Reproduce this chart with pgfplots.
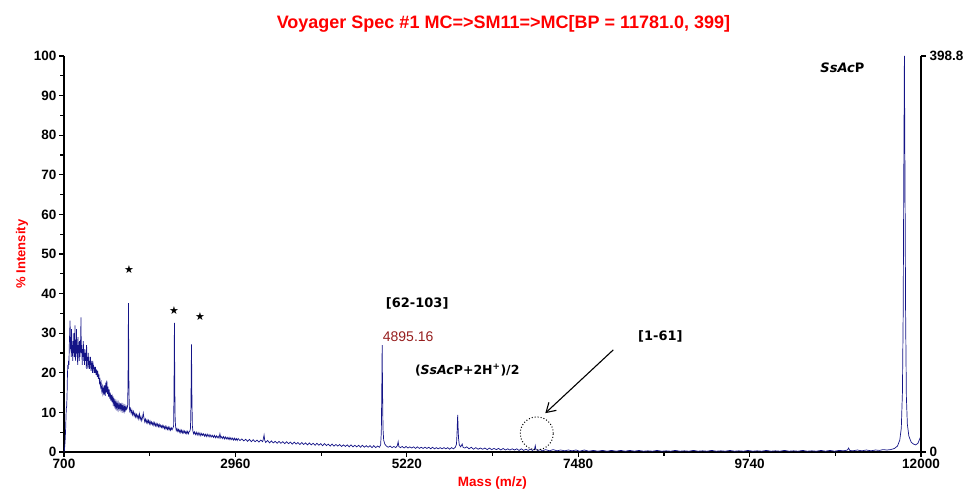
\documentclass[border=0pt]{standalone}
\usepackage{pgfplots}
\pgfplotsset{compat=1.18}
\usepackage{fontspec}
\setmainfont{Liberation Sans}
\newfontfamily\annfont{DejaVu Sans}
\usetikzlibrary{arrows.meta}
\definecolor{spec}{RGB}{20,20,135}
\definecolor{peaklab}{RGB}{150,30,30}
\begin{document}
\begin{tikzpicture}
\path[use as bounding box] (-64pt,-45pt) rectangle (905pt,452pt);
\begin{axis}[
  scale only axis, width=857pt, height=396pt,
  xmin=700, xmax=12000, ymin=0, ymax=100,
  scaled ticks=false,
  axis x line*=bottom, axis y line*=left,
  axis line style={-, black},
  x axis line style={line width=1.1pt},
  y axis line style={line width=1.6pt},
  xtick={700,2960,5220,7480,9740,12000},
  minor xtick={1830,4090,6350,8610,10870},
  ytick={0,10,...,100}, minor ytick={5,15,...,95},
  tick align=outside,
  major tick length=5pt, minor tick length=4pt,
  every tick/.style={black, line width=1.2pt},
  /pgf/number format/assume math mode=true,
  /pgf/number format/1000 sep={},
  ticklabel style={font=\fontsize{13.5}{15}\selectfont\bfseries},
  xticklabel style={yshift=1pt},
  yticklabel style={xshift=1pt},
  xlabel={Mass (m/z)}, ylabel={\% Intensity},
  label style={font=\fontsize{13}{15}\selectfont\bfseries, text=red},
  xlabel style={yshift=-1pt, font=\fontsize{13.5}{15}\selectfont\bfseries},
  ylabel style={yshift=-1pt},
  title={Voyager Spec \#1 MC=>SM11=>MC[BP = 11781.0, 399]},
  title style={font=\fontsize{18}{20}\selectfont\bfseries, text=red, yshift=14pt, xshift=11pt},
  clip=false,
]
\addplot[spec, line width=0.7pt] coordinates {
(700,0) (705,0.5) (710,1.5) (715,3) (720,5) (725,8) (730,11) (735,11.5) (740,14) (745,19) (750,22) (755,21) (760,23) (765,22) (770,27) (775,30) (780,33.2) (785,26) (790,29) (795,24) (800,31) (805,25) (810,27) (815,23) (820,28) (825,25) (830,30) (835,24) (840,27) (845,32) (850,23) (855,28) (860,25) (865,31) (870,24) (875,27) (880,22) (885,29) (890,25) (895,27) (900,23) (905,28) (910,24) (915,26) (920,29) (924,34) (928,25) (935,27) (940,22) (945,26) (950,24) (955,28) (960,23) (965,25) (970,22) (975,26) (980,24) (985,23) (990,25) (995,21) (998,27) (1003,23) (1010,24) (1015,21) (1020,25) (1025,22) (1030,24) (1035,21) (1040,23) (1045,22) (1050,24) (1055,20.5) (1060,23) (1065,21) (1070,22.5) (1075,20) (1080,23) (1085,21) (1090,22) (1095,20) (1100,21.5)
(1108,20) (1115,21.5) (1123,19.5) (1130,20.8) (1138,19) (1145,20.5) (1153,18.5) (1160,19.6) (1168,17.5) (1175,18.2) (1183,16.5) (1190,17.4) (1198,15.5) (1205,16.5) (1213,14.8) (1220,16) (1228,14.5) (1235,16.8) (1243,14.2) (1250,17.5) (1258,15) (1265,18) (1273,14.6) (1280,16.5) (1288,14) (1295,15.8) (1303,13.5) (1310,15) (1318,13) (1325,14.4) (1333,12.6) (1340,13.8) (1348,12.2) (1355,13.3) (1363,11.8) (1370,12.9) (1378,11.4) (1385,12.6) (1393,11.2) (1400,12.4) (1408,11) (1415,12.2) (1423,10.8) (1430,12) (1438,11) (1445,12.3) (1453,10.7) (1460,11.8) (1468,10.6) (1475,11.7) (1483,10.5) (1490,11.6) (1498,10.4) (1505,11.5) (1513,10.6) (1520,11.4) (1528,10.8) (1535,11.2) (1540,12) (1545,20) (1550,37.6) (1555,19) (1560,12) (1566,10.4)
(1575,11) (1585,9.8) (1595,10.6) (1605,9.4) (1615,10.2) (1625,9.1) (1635,9.8) (1645,8.8) (1655,9.5) (1665,8.6) (1675,9.3) (1685,8.4) (1695,9.6) (1705,8.2) (1715,8.9) (1725,7.9) (1735,8.7) (1745,9.8) (1755,8.5) (1765,7.6) (1775,8.3) (1785,7.4) (1795,8.1) (1805,7.3) (1815,8) (1825,7.1) (1835,7.8) (1845,7) (1855,7.6) (1865,6.9) (1875,7.5) (1885,6.7) (1895,7.4) (1905,6.6) (1915,7.2) (1925,6.5) (1935,7.1) (1945,6.4) (1955,7) (1965,6.3) (1975,6.8) (1985,6.2) (1995,6.7) (2005,6.1) (2015,6.6) (2025,5.9) (2035,6.5) (2045,5.8) (2055,6.4) (2065,5.7) (2075,6.3) (2085,5.6) (2095,6.2) (2105,5.5) (2115,6.1) (2125,5.6) (2135,6) (2145,6.5) (2150,14) (2156,32.6) (2161,16) (2166,8) (2172,6.4)
(2180,5.4) (2190,5.9) (2200,5.2) (2210,5.7) (2220,5) (2230,5.6) (2240,4.9) (2250,5.5) (2260,4.8) (2270,5.4) (2280,4.8) (2290,5.3) (2300,4.7) (2310,5.2) (2320,4.6) (2330,5.2) (2340,4.6) (2350,5.1) (2360,5.3) (2368,6) (2374,12) (2381,27.2) (2387,13) (2393,6.5) (2400,5.2)
(2410,4.6) (2420,5.1) (2432,4.4) (2444,5) (2456,4.3) (2468,4.9) (2480,4.2) (2492,4.8) (2504,4.1) (2516,4.7) (2528,4.2) (2540,4.6) (2552,4) (2564,4.5) (2576,3.9) (2588,4.5) (2600,3.9) (2612,4.4) (2624,3.8) (2636,4.3) (2648,3.8) (2660,4.2) (2672,3.7) (2684,4.2) (2696,3.6) (2708,4.1) (2720,3.6) (2732,4) (2744,3.5) (2756,4.6) (2768,3.5) (2780,3.9) (2792,3.4) (2804,3.9) (2816,3.3) (2828,3.8) (2840,3.3) (2852,3.7) (2864,3.2) (2876,3.7) (2888,3.1) (2900,3.6) (2912,3.1) (2924,3.5) (2936,3) (2948,3.5) (2960,3) (2972,3.4) (2984,2.9) (2996,3.4)
(3020,2.9) (3045,3.3) (3070,2.8) (3095,3.2) (3120,2.7) (3145,3.2) (3170,2.6) (3195,3.1) (3220,2.6) (3245,3) (3270,2.5) (3295,3) (3320,2.6) (3330,3.5) (3338,4.3) (3346,3) (3360,2.4) (3385,2.9) (3410,2.3) (3435,2.8) (3460,2.3) (3485,2.7) (3510,2.2) (3535,2.7) (3560,2.2) (3585,2.6) (3610,2.1) (3635,2.6) (3660,2.1) (3685,2.5) (3710,2) (3735,2.5) (3760,2) (3785,2.4) (3810,1.9) (3835,2.4) (3860,1.9) (3885,2.3) (3910,1.8) (3935,2.3) (3960,1.8) (3985,2.2) (4010,1.7) (4035,2.2) (4060,1.7) (4085,2.1) (4110,1.6) (4135,2.1) (4160,1.6) (4185,2) (4210,1.5) (4235,2) (4260,1.5) (4285,1.9) (4310,1.5) (4335,1.9) (4360,1.4) (4385,1.8) (4410,1.4) (4435,1.8) (4460,1.3) (4485,1.8) (4510,1.3) (4535,1.7) (4560,1.3) (4585,1.7) (4610,1.2) (4635,1.7) (4660,1.2) (4685,1.6) (4710,1.2) (4735,1.6) (4760,1.1) (4785,1.6) (4810,1.1) (4835,1.5) (4860,1.2) (4875,1.8) (4884,5) (4890,15) (4895.16,27) (4900,16) (4906,6) (4915,3) (4930,2) (4950,1.5) (4975,1.2) (5000,1.5) (5025,1.1) (5050,1.4) (5075,1.1) (5095,1.6) (5106,2.6) (5115,1.4) (5135,1.1) (5160,1.4) (5185,1) (5210,1.4) (5235,1) (5260,1.3) (5285,1) (5310,1.3) (5335,0.9) (5360,1.3) (5385,0.9) (5410,1.2) (5435,0.9) (5460,1.2) (5485,0.9) (5510,1.2) (5535,0.8) (5560,1.2) (5585,0.8) (5610,1.1) (5635,0.8) (5660,1.1) (5685,0.8) (5710,1.1) (5735,0.8) (5760,1.1) (5785,0.7) (5810,1.1) (5835,0.8) (5860,1.2) (5875,2) (5882,4.5) (5887,7.5) (5891,9.4) (5896,6.5) (5902,3.5) (5912,1.8) (5930,1.3) (5950,2) (5962,1.2) (5985,1) (6010,1.3) (6040,0.8) (6070,1.2) (6100,0.7) (6130,1.1) (6160,0.7) (6190,1) (6220,0.7) (6250,1) (6280,0.6) (6310,1) (6340,0.6) (6370,0.9) (6400,0.6) (6430,0.9) (6460,0.5) (6490,0.9) (6520,0.5) (6550,0.8) (6580,0.5) (6610,0.8) (6640,0.5) (6670,0.8) (6700,0.4) (6730,0.8) (6760,0.4) (6790,0.7) (6820,0.4) (6850,0.7) (6880,0.4) (6905,0.8) (6914,1.6) (6922,0.6) (6950,0.4) (6980,0.6) (7010,0.3) (7050,0.6) (7100,0.3) (7150,0.6) (7200,0.3) (7250,0.5) (7300,0.3) (7350,0.5) (7400,0.3) (7450,0.5) (7500,0.2) (7560,0.5) (7620,0.2) (7680,0.4) (7740,0.2) (7800,0.4) (7860,0.2) (7920,0.4) (7980,0.2) (8040,0.4) (8100,0.2) (8160,0.4) (8220,0.2) (8280,0.4) (8340,0.2) (8400,0.3) (8460,0.2) (8520,0.4) (8580,0.2) (8640,0.3) (8700,0.2) (8760,0.4) (8820,0.2) (8880,0.3) (8940,0.2) (9000,0.4) (9060,0.2) (9120,0.3) (9180,0.2) (9240,0.4) (9300,0.2) (9360,0.3) (9420,0.2) (9480,0.4) (9540,0.2) (9600,0.3) (9660,0.2) (9720,0.4) (9780,0.2) (9840,0.3) (9900,0.2) (9960,0.4) (10020,0.2) (10080,0.3) (10140,0.2) (10200,0.4) (10260,0.2) (10320,0.3) (10380,0.2) (10440,0.4) (10500,0.2) (10560,0.3) (10620,0.2) (10680,0.4) (10740,0.2) (10800,0.4) (10860,0.2) (10920,0.4) (10980,0.3) (11030,0.5) (11045,1) (11060,0.4) (11100,0.3) (11160,0.5) (11220,0.3) (11280,0.5) (11340,0.3) (11400,0.5) (11450,0.4) (11500,0.6) (11550,0.5)
(11600,0.6) (11650,0.9) (11690,1.5) (11720,3) (11740,6) (11755,15) (11765,35) (11773,70) (11781,100) (11789,68) (11797,35) (11807,14) (11820,7) (11840,4) (11870,2.5) (11900,2) (11930,1.8) (11960,2.2) (11980,3.2) (12000,4)
};
\node[font=\annfont\fontsize{11}{12}\selectfont] at (axis cs:1557,46) {★};
\node[font=\annfont\fontsize{11}{12}\selectfont] at (axis cs:2151,35.6) {★};
\node[font=\annfont\fontsize{11}{12}\selectfont] at (axis cs:2494,34.3) {★};
\node[font=\annfont\fontsize{13}{15}\selectfont\bfseries] at (axis cs:5357,37.4) {[62-103]};
\node[font=\fontsize{14}{16}\selectfont, text=peaklab] at (axis cs:5238,29) {4895.16};
\node[font=\annfont\fontsize{12.5}{15}\selectfont\bfseries] at (axis cs:6017,20.7) {(\textit{SsAc}P+2H\textsuperscript{+})/2};
\node[font=\annfont\fontsize{13}{15}\selectfont\bfseries] at (axis cs:8563,29.3) {[1-61]};
\node[font=\annfont\fontsize{13}{15}\selectfont\bfseries] at (axis cs:10964,97) {\textit{SsAc}P};
\draw[black, line width=1.1pt, -{Straight Barb[length=9pt,width=11pt]}] (axis cs:7943,25.8) -- (axis cs:7046,9.8);
\draw[black, line width=1pt, dotted] (axis cs:6934,4.7) circle[radius=16.5pt];
\end{axis}
\begin{axis}[
  scale only axis, width=857pt, height=396pt,
  xmin=700, xmax=12000, ymin=0, ymax=398.8,
  axis x line=none, axis y line*=right,
  axis line style={-, black, line width=1.1pt},
  ytick={0,398.8}, yticklabels={0,398.8},
  tick align=outside, major tick length=5pt,
  every tick/.style={black, line width=1.2pt},
  ticklabel style={font=\fontsize{13.5}{15}\selectfont\bfseries},
]
\addplot[draw=none] coordinates {(700,0) (12000,0)};
\end{axis}
\end{tikzpicture}
\end{document}
